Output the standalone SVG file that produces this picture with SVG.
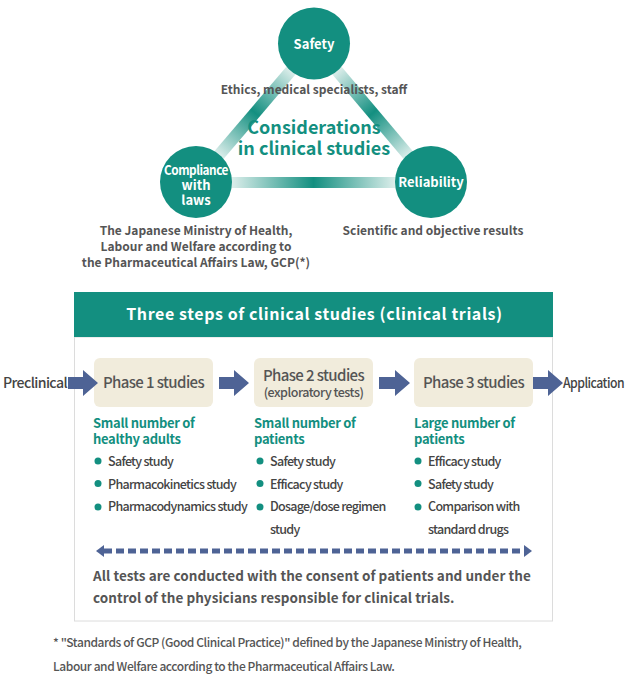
<svg xmlns="http://www.w3.org/2000/svg" width="628" height="700" viewBox="0 0 628 700">
<style>
text{font-family:"Noto Sans CJK JP","Noto Sans",sans-serif;}
.circ{fill:#138f80;}
.ct{fill:#fff;font-size:13px;font-weight:700;text-anchor:middle;}
.gray{fill:#555;font-size:12px;font-weight:700;text-anchor:middle;}
.cons{fill:#138f80;font-size:18px;font-weight:700;text-anchor:middle;}
.ph{fill:#f1ecdc;}
.pt{fill:#555;font-size:15px;font-weight:500;text-anchor:middle;letter-spacing:-0.6px;}
.pts{fill:#555;font-size:12.5px;font-weight:500;text-anchor:middle;letter-spacing:-0.5px;}
.sub{fill:#138f80;font-size:13px;font-weight:700;letter-spacing:-0.3px;}
.bl{fill:#444;font-size:12.5px;font-weight:500;letter-spacing:-0.7px;}
.dot{fill:#138f80;}
.arr{fill:#4e6395;}
.side{fill:#444;font-size:14px;font-weight:500;letter-spacing:-0.6px;}
.note{fill:#555;font-size:13.5px;font-weight:700;letter-spacing:0.05px;}
.fn{fill:#555;font-size:12px;font-weight:500;letter-spacing:-0.42px;}
</style>
<defs>
<linearGradient id="bar" x1="0" y1="0" x2="1" y2="0">
<stop offset="0" stop-color="#e0f0ed"/>
<stop offset="0.5" stop-color="#138f80"/>
<stop offset="1" stop-color="#e0f0ed"/>
</linearGradient>
<marker id="ah" viewBox="0 0 8 12" refX="0" refY="6" markerWidth="8" markerHeight="12" markerUnits="userSpaceOnUse" orient="auto-start-reverse">
<path d="M0,0 L8,6 L0,12 Z" fill="#4e6395"/>
</marker>
</defs>
<g id="connectors">
<g transform="translate(314,43.5) rotate(130.4)"><rect x="34" y="-6" width="114" height="12" fill="url(#bar)"/></g>
<g transform="translate(314,43.5) rotate(49.8)"><rect x="34" y="-6" width="114" height="12" fill="url(#bar)"/></g>
<rect x="230" y="177" width="167" height="11" fill="url(#bar)"/>
</g>
<g id="safety"><circle class="circ" cx="314" cy="43.5" r="36"/><text class="ct" x="314" y="48.5">Safety</text></g>
<g id="compliance"><circle class="circ" cx="196" cy="182" r="36"/><text class="ct" x="196" y="174.5" font-size="12" letter-spacing="-0.5" textLength="64" lengthAdjust="spacingAndGlyphs">Compliance</text><text class="ct" x="196" y="189.5" font-size="12.5">with</text><text class="ct" x="196" y="204.5" font-size="12.5">laws</text></g>
<g id="reliability"><circle class="circ" cx="431" cy="182" r="36"/><text class="ct" x="431" y="186.5">Reliability</text></g>
<g id="labels">
<text class="gray" x="314" y="94">Ethics, medical specialists, staff</text>
<text class="cons" x="314" y="134">Considerations</text>
<text class="cons" x="314" y="155">in clinical studies</text>
<text class="gray" x="196" y="235">The Japanese Ministry of Health,</text>
<text class="gray" x="196" y="251">Labour and Welfare according to</text>
<text class="gray" x="196" y="267">the Pharmaceutical Affairs Law, GCP(*)</text>
<text class="gray" x="433" y="235">Scientific and objective results</text>
</g>
<g id="panel">
<rect x="74.5" y="337" width="478" height="284" fill="#fff" stroke="#dcdcdc" stroke-width="1"/>
<rect x="74" y="292" width="479" height="45" fill="#138f80"/>
<text x="314.5" y="320" fill="#fff" font-size="16" font-weight="700" text-anchor="middle" letter-spacing="0.6">Three steps of clinical studies (clinical trials)</text>
</g>
<g id="preclinical"><text class="side" x="3" y="388" textLength="64" lengthAdjust="spacingAndGlyphs">Preclinical</text></g>
<g id="application"><text class="side" x="563" y="388" textLength="61" lengthAdjust="spacingAndGlyphs">Application</text></g>
<g id="phase1">
<rect class="ph" x="94" y="358" width="119" height="49" rx="6"/>
<text class="pt" x="153.5" y="388">Phase 1 studies</text>
<text class="sub" x="93" y="428">Small number of</text>
<text class="sub" x="93" y="444">healthy adults</text>
<circle class="dot" cx="98" cy="461" r="3.5"/><text class="bl" x="108" y="466">Safety study</text>
<circle class="dot" cx="98" cy="483.5" r="3.5"/><text class="bl" x="108" y="488.5">Pharmacokinetics study</text>
<circle class="dot" cx="98" cy="507" r="3.5"/><text class="bl" x="108" y="511">Pharmacodynamics study</text>
</g>
<g id="phase2">
<rect class="ph" x="254" y="358" width="119" height="49" rx="6"/>
<text class="pt" x="313.5" y="381">Phase 2 studies</text>
<text class="pts" x="313.5" y="397">(exploratory tests)</text>
<text class="sub" x="254" y="428">Small number of</text>
<text class="sub" x="254" y="444">patients</text>
<circle class="dot" cx="260" cy="461" r="3.5"/><text class="bl" x="270" y="466">Safety study</text>
<circle class="dot" cx="260" cy="483.5" r="3.5"/><text class="bl" x="270" y="488.5">Efficacy study</text>
<circle class="dot" cx="260" cy="507" r="3.5"/><text class="bl" x="270" y="511">Dosage/dose regimen</text>
<text class="bl" x="270" y="533.5">study</text>
</g>
<g id="phase3">
<rect class="ph" x="414" y="358" width="119" height="49" rx="6"/>
<text class="pt" x="473.5" y="388">Phase 3 studies</text>
<text class="sub" x="414" y="428">Large number of</text>
<text class="sub" x="414" y="444">patients</text>
<circle class="dot" cx="418" cy="461" r="3.5"/><text class="bl" x="428" y="466">Efficacy study</text>
<circle class="dot" cx="418" cy="483.5" r="3.5"/><text class="bl" x="428" y="488.5">Safety study</text>
<circle class="dot" cx="418" cy="507" r="3.5"/><text class="bl" x="428" y="511">Comparison with</text>
<text class="bl" x="428" y="533.5">standard drugs</text>
</g>
<g id="flow-arrows">
<path class="arr" d="M68,377 H83 V370 L98,383 L83,396 V389 H68 Z"/>
<path class="arr" d="M219,377 H234 V370 L249,383 L234,396 V389 H219 Z"/>
<path class="arr" d="M379,377 H395 V370 L410,383 L395,396 V389 H379 Z"/>
<path class="arr" d="M533,377 H548 V370 L563,383 L548,396 V389 H533 Z"/>
<line x1="104" y1="551" x2="524" y2="551" stroke="#4e6395" stroke-width="5" stroke-dasharray="8,4" marker-start="url(#ah)" marker-end="url(#ah)"/>
</g>
<g id="note">
<text class="note" x="93" y="581">All tests are conducted with the consent of patients and under the</text>
<text class="note" x="93" y="603">control of the physicians responsible for clinical trials.</text>
</g>
<g id="footnote">
<text class="fn" x="53" y="647">* "Standards of GCP (Good Clinical Practice)" defined by the Japanese Ministry of Health,</text>
<text class="fn" x="53" y="671">Labour and Welfare according to the Pharmaceutical Affairs Law.</text>
</g>
</svg>
